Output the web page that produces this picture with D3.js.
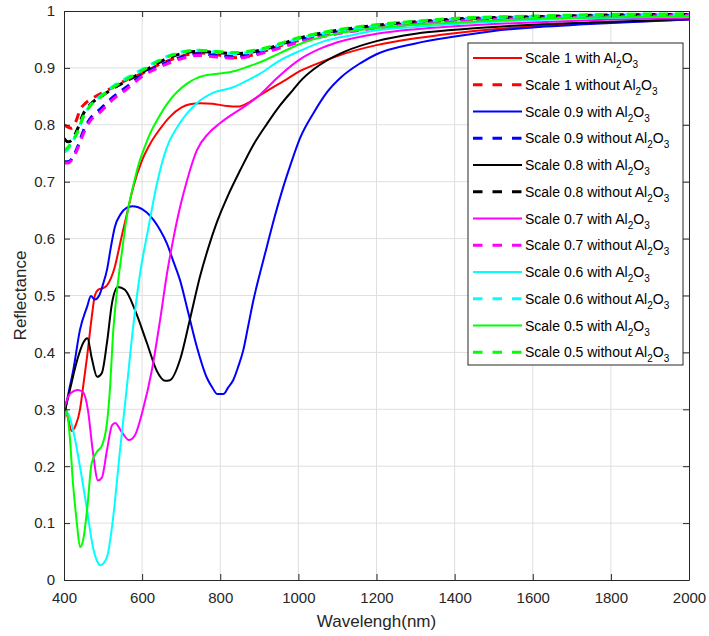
<!DOCTYPE html>
<html>
<head>
<meta charset="utf-8">
<script src="https://cdn.jsdelivr.net/npm/d3@7"></script>
<style>
  html, body { margin: 0; padding: 0; background: #fff; overflow: hidden; }
  svg { display: block; }
  text { font-family: "Liberation Sans", Arial, sans-serif; }
</style>
</head>
<body>
<div id="chart"></div>
<script>
// reflectance, [wavelength nm, reflectance]
const scale1With = [[400,0.315],[410,0.285],[420,0.262],[430,0.272],[441,0.3],[450,0.345],[459,0.392],[471,0.462],[479,0.5],[487,0.51],[500,0.513],[510,0.518],[520,0.53],[530,0.55],[540,0.58],[548,0.605],[560,0.64],[577,0.69],[600,0.738],[620,0.766],[645,0.792],[671,0.814],[700,0.83],[722,0.836],[750,0.838],[780,0.837],[817,0.833],[845,0.832],[870,0.838],[902,0.852],[940,0.868],[970,0.88],[1000,0.893],[1050,0.908],[1100,0.921],[1200,0.94],[1300,0.952],[1400,0.961],[1500,0.968],[1600,0.973],[1800,0.98],[2000,0.985]];
const scale1Without = [[400,0.8],[410,0.796],[420,0.794],[430,0.805],[441,0.826],[455,0.838],[474,0.847],[500,0.857],[526,0.866],[560,0.879],[602,0.891],[650,0.908],[689,0.918],[720,0.924],[750,0.926],[800,0.922],[843,0.918],[880,0.922],[902,0.927],[950,0.938],[1000,0.948],[1050,0.956],[1100,0.963],[1200,0.972],[1300,0.979],[1400,0.984],[1500,0.987],[1600,0.989],[1800,0.992],[2000,0.993]];
const scale09With = [[400,0.29],[412,0.33],[424,0.37],[441,0.44],[459,0.48],[469,0.499],[479,0.493],[490,0.5],[500,0.52],[510,0.545],[520,0.585],[530,0.62],[545,0.643],[560,0.654],[575,0.657],[590,0.655],[612,0.646],[630,0.632],[646,0.615],[663,0.592],[680,0.56],[697,0.527],[718,0.47],[740,0.41],[766,0.355],[780,0.338],[792,0.327],[808,0.327],[820,0.338],[833,0.351],[846,0.375],[859,0.404],[872,0.448],[885,0.492],[902,0.54],[919,0.585],[940,0.64],[961,0.69],[980,0.73],[1004,0.776],[1040,0.822],[1073,0.857],[1110,0.884],[1158,0.908],[1200,0.924],[1300,0.943],[1400,0.955],[1500,0.965],[1600,0.971],[1800,0.979],[2000,0.985]];
const scale09Without = [[400,0.735],[410,0.735],[420,0.74],[433,0.758],[450,0.79],[466,0.81],[492,0.827],[526,0.849],[561,0.867],[602,0.889],[650,0.906],[700,0.919],[740,0.925],[791,0.922],[843,0.92],[880,0.924],[920,0.931],[1000,0.948],[1100,0.963],[1200,0.972],[1300,0.979],[1400,0.984],[1600,0.989],[1800,0.992],[2000,0.993]];
const scale08With = [[400,0.29],[415,0.334],[436,0.392],[450,0.418],[460,0.425],[471,0.39],[485,0.357],[497,0.364],[510,0.417],[523,0.487],[538,0.515],[556,0.51],[582,0.474],[612,0.417],[638,0.367],[659,0.35],[671,0.351],[697,0.387],[722,0.457],[748,0.533],[770,0.585],[791,0.628],[820,0.676],[851,0.72],[885,0.765],[920,0.802],[953,0.834],[987,0.862],[1004,0.876],[1040,0.898],[1073,0.913],[1120,0.929],[1200,0.947],[1300,0.96],[1400,0.967],[1500,0.972],[1600,0.976],[1800,0.981],[2000,0.986]];
const scale08Without = [[400,0.776],[410,0.77],[420,0.773],[433,0.79],[450,0.82],[466,0.835],[500,0.852],[526,0.864],[560,0.877],[602,0.893],[650,0.912],[700,0.925],[740,0.929],[790,0.927],[840,0.925],[880,0.928],[920,0.934],[1000,0.952],[1100,0.966],[1200,0.975],[1300,0.981],[1400,0.986],[1600,0.99],[1800,0.993],[2000,0.994]];
const scale07With = [[400,0.3],[415,0.327],[436,0.334],[449,0.33],[461,0.3],[474,0.225],[487,0.175],[497,0.18],[510,0.228],[523,0.272],[531,0.276],[548,0.26],[566,0.246],[582,0.255],[602,0.299],[625,0.369],[646,0.457],[664,0.54],[680,0.6],[697,0.655],[714,0.7],[740,0.755],[770,0.785],[800,0.803],[830,0.818],[868,0.835],[902,0.853],[945,0.882],[1004,0.915],[1050,0.932],[1100,0.945],[1200,0.96],[1300,0.968],[1400,0.973],[1500,0.977],[1600,0.98],[1800,0.985],[2000,0.988]];
const scale07Without = [[400,0.733],[410,0.733],[420,0.738],[433,0.755],[450,0.785],[466,0.806],[492,0.822],[526,0.845],[561,0.863],[602,0.886],[650,0.903],[700,0.916],[740,0.922],[791,0.919],[843,0.917],[880,0.921],[920,0.928],[1000,0.945],[1100,0.96],[1200,0.97],[1300,0.977],[1400,0.982],[1600,0.987],[1800,0.99],[2000,0.992]];
const scale06With = [[400,0.29],[410,0.293],[423,0.264],[441,0.199],[459,0.123],[474,0.058],[485,0.033],[493,0.026],[502,0.03],[512,0.045],[525,0.105],[543,0.225],[561,0.34],[577,0.445],[595,0.54],[615,0.615],[638,0.697],[663,0.76],[689,0.795],[715,0.82],[740,0.838],[781,0.856],[833,0.866],[870,0.878],[902,0.89],[950,0.912],[1004,0.93],[1070,0.948],[1140,0.958],[1200,0.966],[1300,0.972],[1400,0.977],[1500,0.981],[1600,0.984],[1800,0.988],[2000,0.99]];
const scale06Without = [[400,0.752],[410,0.757],[420,0.768],[433,0.785],[450,0.815],[466,0.833],[500,0.854],[526,0.868],[560,0.882],[602,0.898],[650,0.916],[700,0.928],[740,0.931],[790,0.928],[840,0.925],[880,0.928],[920,0.934],[1000,0.951],[1100,0.965],[1200,0.974],[1300,0.981],[1400,0.986],[1600,0.99],[1800,0.993],[2000,0.994]];
const scale05With = [[400,0.275],[406,0.298],[415,0.25],[423,0.17],[433,0.1],[441,0.058],[449,0.07],[459,0.123],[471,0.206],[484,0.225],[497,0.236],[510,0.276],[518,0.339],[525,0.427],[536,0.51],[548,0.575],[561,0.64],[577,0.692],[590,0.728],[605,0.758],[620,0.784],[640,0.81],[663,0.836],[690,0.858],[714,0.872],[756,0.886],[800,0.89],[840,0.895],[870,0.902],[902,0.91],[950,0.925],[1004,0.942],[1070,0.956],[1140,0.965],[1200,0.97],[1300,0.976],[1400,0.98],[1500,0.983],[1600,0.986],[1800,0.989],[2000,0.991]];
const scale05Without = [[400,0.755],[410,0.76],[420,0.77],[433,0.785],[450,0.815],[466,0.832],[500,0.852],[526,0.866],[560,0.88],[602,0.896],[650,0.915],[700,0.927],[740,0.931],[790,0.929],[840,0.927],[880,0.93],[920,0.936],[1000,0.953],[1100,0.967],[1200,0.976],[1300,0.982],[1400,0.987],[1600,0.991],[1800,0.994],[2000,0.995]];

const scaleLabels = ['1', '0.9', '0.8', '0.7', '0.6', '0.5'];
const xTicks = [400, 600, 800, 1000, 1200, 1400, 1600, 1800, 2000];
const yTicks = [0, 0.1, 0.2, 0.3, 0.4, 0.5, 0.6, 0.7, 0.8, 0.9, 1];

const colors = ['#ff0000', '#0000ff', '#000000', '#ff00ff', '#00ffff', '#00ff00'];
const withData = [scale1With, scale09With, scale08With, scale07With, scale06With, scale05With];
const withoutData = [scale1Without, scale09Without, scale08Without, scale07Without, scale06Without, scale05Without];

// plot order = legend order: with, without, with, without ...
let series = [];
scaleLabels.forEach((s, i) => {
  series.push({ scale: s, kind: 'with', color: colors[i], dashed: false, data: withData[i] });
  series.push({ scale: s, kind: 'without', color: colors[i], dashed: true, data: withoutData[i] });
});

const width = 709, height = 636;
const margin = { left: 64, top: 11, right: 20, bottom: 56 };
const innerWidth = width - margin.left - margin.right;
const innerHeight = height - margin.top - margin.bottom;
const axisColor = '#262626';

const svg = d3.select('#chart').append('svg')
  .attr('width', width)
  .attr('height', height);

const g = svg.append('g')
  .attr('transform', `translate(${margin.left},${margin.top})`);

const x = d3.scaleLinear().domain([400, 2000]).range([0, innerWidth]);
const y = d3.scaleLinear().domain([0, 1]).range([innerHeight, 0]);

// grid
g.append('g').selectAll('line').data(xTicks.slice(1, -1)).enter().append('line')
  .attr('x1', d => x(d)).attr('x2', d => x(d))
  .attr('y1', 0).attr('y2', innerHeight)
  .attr('stroke', '#dfdfdf').attr('stroke-width', 1);
g.append('g').selectAll('line').data(yTicks.slice(1, -1)).enter().append('line')
  .attr('x1', 0).attr('x2', innerWidth)
  .attr('y1', d => y(d)).attr('y2', d => y(d))
  .attr('stroke', '#dfdfdf').attr('stroke-width', 1);

// curves
g.append('clipPath').attr('id', 'plotClip')
  .append('rect').attr('width', innerWidth).attr('height', innerHeight);

const line = d3.line()
  .x(d => x(d[0]))
  .y(d => y(d[1]))
  .curve(d3.curveMonotoneX);

g.append('g').attr('clip-path', 'url(#plotClip)')
  .selectAll('path').data(series).enter().append('path')
  .attr('d', d => line(d.data))
  .attr('fill', 'none')
  .attr('stroke', d => d.color)
  .attr('stroke-width', d => d.dashed ? 3 : 2)
  .attr('stroke-dasharray', d => d.dashed ? '9,7' : null);

// axes, MATLAB style box with inward ticks
function styleAxis(sel) {
  sel.selectAll('path').attr('stroke', axisColor);
  sel.selectAll('line').attr('stroke', axisColor);
  sel.selectAll('text').attr('fill', axisColor).style('font-size', '15px')
    .style('font-family', '"Liberation Sans", Arial, sans-serif');
}

g.append('g')
  .attr('transform', `translate(0,${innerHeight})`)
  .call(d3.axisBottom(x).tickValues(xTicks).tickFormat(d3.format('d')).tickSizeInner(-6).tickSizeOuter(0).tickPadding(12))
  .call(styleAxis);
g.append('g')
  .call(d3.axisLeft(y).tickValues(yTicks).tickFormat(d => d === 0 || d === 1 ? d : d.toFixed(1)).tickSizeInner(-6).tickSizeOuter(0).tickPadding(9))
  .call(styleAxis);
g.append('g')
  .call(d3.axisTop(x).tickValues(xTicks).tickFormat('').tickSizeInner(-6).tickSizeOuter(0))
  .call(styleAxis)
  .call(a => a.selectAll('text').remove());
g.append('g')
  .attr('transform', `translate(${innerWidth},0)`)
  .call(d3.axisRight(y).tickValues(yTicks).tickFormat('').tickSizeInner(-6).tickSizeOuter(0))
  .call(styleAxis)
  .call(a => a.selectAll('text').remove());

// axis titles
svg.append('text')
  .attr('x', margin.left + innerWidth / 2)
  .attr('y', 627)
  .attr('text-anchor', 'middle')
  .attr('fill', axisColor)
  .style('font-size', '17px')
  .text('Wavelengh(nm)');

svg.append('text')
  .attr('transform', `translate(26,${margin.top + innerHeight / 2}) rotate(-90)`)
  .attr('text-anchor', 'middle')
  .attr('fill', axisColor)
  .style('font-size', '17px')
  .text('Reflectance');

// legend
const legend = svg.append('g').attr('transform', 'translate(468,43)');
const rowH = 26.75;
legend.append('rect')
  .attr('width', 215).attr('height', 322)
  .attr('fill', '#fff').attr('stroke', axisColor).attr('stroke-width', 1);

const rows = legend.selectAll('g.row').data(series).enter().append('g')
  .attr('class', 'row')
  .attr('transform', (d, i) => `translate(0,${15 + i * rowH})`);

rows.append('line')
  .attr('x1', 5).attr('x2', 54)
  .attr('stroke', d => d.color)
  .attr('stroke-width', d => d.dashed ? 3 : 2)
  .attr('stroke-dasharray', d => d.dashed ? '9.5,10' : null);

const label = rows.append('text')
  .attr('x', 57).attr('y', 5)
  .attr('fill', '#000')
  .style('font-size', '14px');
label.append('tspan').text(d => `Scale ${d.scale} ${d.kind} Al`);
label.append('tspan').attr('dy', 5).style('font-size', '10px').text('2');
label.append('tspan').attr('dy', -5).text('O');
label.append('tspan').attr('dy', 5).style('font-size', '10px').text('3');
</script>
</body>
</html>
